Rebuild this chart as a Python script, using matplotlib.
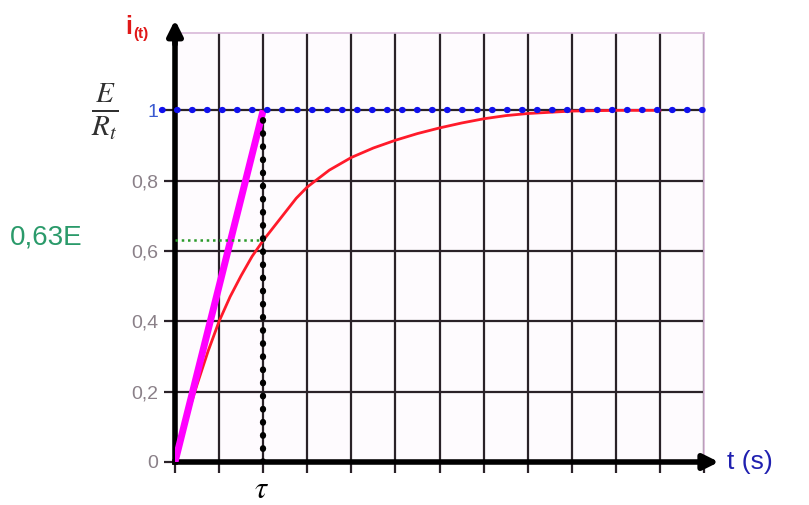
import matplotlib
matplotlib.use('Agg')
import matplotlib.pyplot as plt

#---- data (x in grid columns, tau = 2 columns) ----
t_curve = [0, 0.25, 0.5, 0.75, 1, 1.25, 1.5, 1.75, 2, 2.25, 2.5, 2.75, 3, 3.5, 4, 4.5, 5, 5.5, 6, 6.5, 7, 7.5, 8, 9, 10, 11]
i_curve = [0, 0.12, 0.22, 0.315, 0.40, 0.47, 0.53, 0.585, 0.63, 0.67, 0.71, 0.75, 0.782, 0.83, 0.866, 0.893, 0.915, 0.934, 0.95, 0.964, 0.976, 0.985, 0.991, 0.998, 1.0, 1.0]

tau = 2
i_tau = 0.63
tangent_x = [0, tau]
tangent_y = [0, 1]
asymptote_x = [-0.3, 12]
asymptote_y = [1, 1]

y_ticks = [0, 0.2, 0.4, 0.6, 0.8, 1]
y_labels = ['0', '0,2', '0,4', '0,6', '0,8', '1']
n_cols = 12

plt.rcParams['mathtext.fontset'] = 'stix'

#---- figure ----
fig = plt.figure(figsize=(8.09, 5.05), dpi=100)
fig.patch.set_facecolor('white')
ax = fig.add_axes([175/809, 43/505, 529/809, 429/505])
ax.set_facecolor('#fefbfe')
ax.set_xlim(0, n_cols)
ax.set_ylim(0, 1.22)

# grid
ax.set_xticks(range(n_cols + 1))
ax.set_yticks(y_ticks)
ax.grid(True, color='#2a2228', linewidth=1.6)
ax.set_axisbelow(True)
ax.set_xticklabels([])
ax.set_yticklabels(y_labels, family='Liberation Sans', fontsize=14, color='#8a8088')
ax.get_yticklabels()[-1].set_color('#3a5ad0')
ax.tick_params(axis='both', length=8, width=1.6, color='#2a2228', pad=4)

for s in ['top', 'right']:
    ax.spines[s].set_color('#d8b8d8')
    ax.spines[s].set_linewidth(1.2)
for s in ['left', 'bottom']:
    ax.spines[s].set_color('black')
    ax.spines[s].set_linewidth(4)

# axis arrows
ax.annotate('', xy=(12.4, 0), xytext=(11.9, 0), annotation_clip=False,
            arrowprops=dict(arrowstyle='-|>,head_length=0.9,head_width=0.45', color='black', lw=4))
ax.annotate('', xy=(0, 1.265), xytext=(0, 1.18), annotation_clip=False,
            arrowprops=dict(arrowstyle='-|>,head_length=0.9,head_width=0.45', color='black', lw=4))

# curves
ax.plot(t_curve, i_curve, color='#ff1a2a', linewidth=2, zorder=4)
ax.plot(tangent_x, tangent_y, color='#ff00ff', linewidth=5, solid_capstyle='butt', zorder=5)
ax.plot(asymptote_x, asymptote_y, color='#1010ee', linewidth=4.5, linestyle=(0, (0.1, 2.3)),
        dash_capstyle='round', clip_on=False, zorder=6)
ax.plot([tau, tau], [0, 1], color='black', linewidth=4.5, linestyle=(0, (0.1, 2.0)),
        dash_capstyle='round', zorder=6)
ax.plot([0, tau], [i_tau, i_tau], color='#2a9a2a', linewidth=1.8, linestyle=(0, (1, 1.5)), zorder=6)

# labels
fig.text(125/809, 1 - 27/505, 'i', color='#e01818', fontsize=18, fontweight='bold',
         family='Liberation Sans', ha='left', va='center')
fig.text(133/809, 1 - 34/505, '(t)', color='#e01818', fontsize=11, fontweight='bold',
         family='Liberation Sans', ha='left', va='center')
fig.text(105/809, 1 - 112/505, r'$\frac{E}{R_t}$', color='#303030', fontsize=30,
         ha='center', va='center')
fig.text(10/809, 1 - 238/505, '0,63E', color='#2a9a6a', fontsize=20,
         family='Liberation Sans', ha='left', va='center')
fig.text(262/809, 1 - 489/505, r'$\tau$', color='black', fontsize=22, ha='center', va='center')
fig.text(727/809, 1 - 462/505, 't (s)', color='#2020b0', fontsize=19,
         family='Liberation Sans', ha='left', va='center')

fig.savefig('out.png', dpi=100)
